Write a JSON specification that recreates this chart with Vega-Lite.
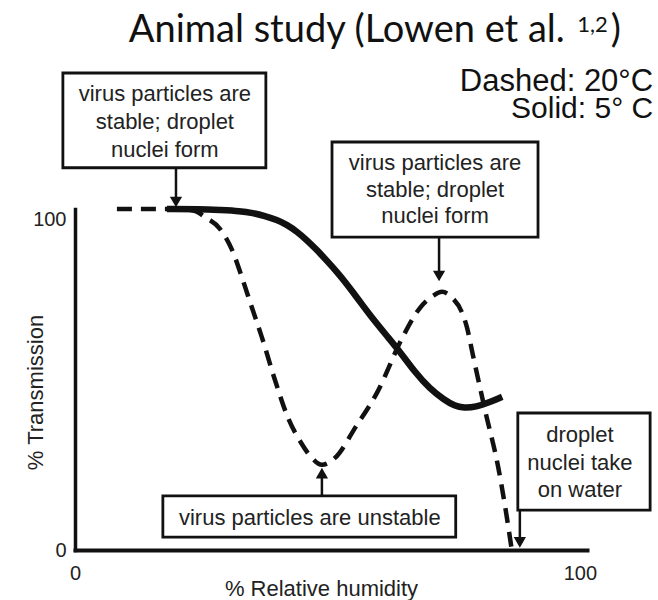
{
  "$schema": "https://vega.github.io/schema/vega-lite/v6.json",
  "autosize": "none",
  "width": 512,
  "height": 341,
  "padding": {"left": 75, "top": 209, "right": 71, "bottom": 50},
  "background": "white",
  "config": {"view": {"stroke": null}},
  "datasets": {
    "curves": [
      {"s": "20C", "x": 8.3, "y": 103.3},
      {"s": "20C", "x": 14.9, "y": 103.3},
      {"s": "20C", "x": 20.8, "y": 103.3},
      {"s": "20C", "x": 23.8, "y": 102.7},
      {"s": "20C", "x": 25.7, "y": 100.9},
      {"s": "20C", "x": 28.7, "y": 97.3},
      {"s": "20C", "x": 31.1, "y": 90.9},
      {"s": "20C", "x": 33.3, "y": 81.5},
      {"s": "20C", "x": 35.0, "y": 73.6},
      {"s": "20C", "x": 37.0, "y": 64.5},
      {"s": "20C", "x": 39.6, "y": 51.5},
      {"s": "20C", "x": 42.2, "y": 40.0},
      {"s": "20C", "x": 44.8, "y": 32.4},
      {"s": "20C", "x": 46.9, "y": 27.9},
      {"s": "20C", "x": 48.9, "y": 25.8},
      {"s": "20C", "x": 51.5, "y": 27.9},
      {"s": "20C", "x": 55.6, "y": 37.3},
      {"s": "20C", "x": 59.8, "y": 47.6},
      {"s": "20C", "x": 64.8, "y": 64.2},
      {"s": "20C", "x": 68.3, "y": 73.3},
      {"s": "20C", "x": 70.9, "y": 77.0},
      {"s": "20C", "x": 72.7, "y": 78.2},
      {"s": "20C", "x": 74.7, "y": 76.4},
      {"s": "20C", "x": 76.6, "y": 72.1},
      {"s": "20C", "x": 77.6, "y": 67.6},
      {"s": "20C", "x": 78.8, "y": 59.1},
      {"s": "20C", "x": 81.2, "y": 42.4},
      {"s": "20C", "x": 83.8, "y": 25.2},
      {"s": "20C", "x": 85.3, "y": 12.1},
      {"s": "20C", "x": 86.5, "y": 0},
      {"s": "5C", "x": 18.2, "y": 103.3},
      {"s": "5C", "x": 24.8, "y": 103.3},
      {"s": "5C", "x": 28.7, "y": 103.0},
      {"s": "5C", "x": 32.7, "y": 102.7},
      {"s": "5C", "x": 35.2, "y": 102.1},
      {"s": "5C", "x": 37.6, "y": 101.2},
      {"s": "5C", "x": 40.0, "y": 100.0},
      {"s": "5C", "x": 42.0, "y": 98.5},
      {"s": "5C", "x": 44.0, "y": 96.4},
      {"s": "5C", "x": 45.9, "y": 93.9},
      {"s": "5C", "x": 47.9, "y": 90.9},
      {"s": "5C", "x": 49.9, "y": 87.6},
      {"s": "5C", "x": 51.9, "y": 84.2},
      {"s": "5C", "x": 53.5, "y": 81.2},
      {"s": "5C", "x": 55.0, "y": 78.2},
      {"s": "5C", "x": 56.8, "y": 74.5},
      {"s": "5C", "x": 58.4, "y": 71.2},
      {"s": "5C", "x": 61.8, "y": 64.8},
      {"s": "5C", "x": 64.4, "y": 60.0},
      {"s": "5C", "x": 67.3, "y": 53.9},
      {"s": "5C", "x": 70.3, "y": 48.8},
      {"s": "5C", "x": 73.1, "y": 45.5},
      {"s": "5C", "x": 75.2, "y": 43.6},
      {"s": "5C", "x": 77.0, "y": 43.0},
      {"s": "5C", "x": 79.4, "y": 43.3},
      {"s": "5C", "x": 82.2, "y": 44.8},
      {"s": "5C", "x": 84.6, "y": 46.4}
    ],
    "boxes": [
      {"id": "b1", "x": -2.4, "x2": 37.8, "y": 144.5, "y2": 115.8},
      {"id": "b2", "x": 50.9, "x2": 91.7, "y": 123.6, "y2": 94.8},
      {"id": "b3", "x": 87.7, "x2": 113.9, "y": 41.5, "y2": 12.1},
      {"id": "b4", "x": 17.4, "x2": 75.4, "y": 16.4, "y2": 3.9}
    ],
    "arrows": [
      {"id": "a1", "x": 20.0, "y": 115.8, "y2": 105.0, "head": 105.4, "shape": "triangle-down"},
      {"id": "a2", "x": 72.1, "y": 94.8, "y2": 82.5, "head": 83.0, "shape": "triangle-down"},
      {"id": "a3", "x": 88.1, "y": 12.1, "y2": 2.0, "head": 2.3, "shape": "triangle-down"},
      {"id": "a4", "x": 48.9, "y": 16.4, "y2": 23.5, "head": 23.3, "shape": "triangle-up"}
    ],
    "notes": [
      {"x": 17.8, "y": 136.1, "t": "virus particles are"},
      {"x": 17.8, "y": 127.6, "t": "stable; droplet"},
      {"x": 17.8, "y": 119.1, "t": "nuclei form"},
      {"x": 71.3, "y": 115.2, "t": "virus particles are"},
      {"x": 71.3, "y": 107.0, "t": "stable; droplet"},
      {"x": 71.3, "y": 99.0, "t": "nuclei form"},
      {"x": 100.0, "y": 32.7, "t": "droplet"},
      {"x": 100.0, "y": 24.2, "t": "nuclei take"},
      {"x": 100.0, "y": 16.1, "t": "on water"},
      {"x": 46.5, "y": 7.6, "t": "virus particles are unstable"}
    ],
    "key": [
      {"x": 114.5, "y": 138.9, "t": "Dashed: 20°C", "size": 31},
      {"x": 114.5, "y": 130.8, "t": "Solid:  5° C", "size": 30}
    ],
    "heading": [
      {"x": 97.0, "y": 153.9, "t": "Animal study (Lowen et al.", "size": 38},
      {"x": 105.5, "y": 157.0, "t": "1,2", "size": 22},
      {"x": 108.1, "y": 153.9, "t": ")", "size": 38}
    ]
  },
  "encoding": {
    "x": {
      "field": "x",
      "type": "quantitative",
      "scale": {"domain": [0, 101.4], "nice": false, "zero": false},
      "axis": {
        "values": [0, 100],
        "title": "% Relative humidity",
        "titleFont": "Liberation Sans",
        "titleFontSize": 22,
        "titleFontWeight": "normal",
        "titleColor": "#222",
        "titleX": 246,
        "titleY": 45,
        "titleAlign": "center",
        "titleBaseline": "alphabetic",
        "labelFont": "Liberation Sans",
        "labelFontSize": 20,
        "labelColor": "#222",
        "labelPadding": 13,
        "labelFlush": false,
        "ticks": false,
        "grid": false,
        "domainColor": "#111",
        "domainWidth": 4,
        "domainCap": "square"
      }
    },
    "y": {
      "field": "y",
      "type": "quantitative",
      "scale": {"domain": [0, 103.3], "nice": false, "zero": false},
      "axis": {
        "values": [0, 100],
        "title": "% Transmission",
        "titleFont": "Liberation Sans",
        "titleFontSize": 22,
        "titleFontWeight": "normal",
        "titleColor": "#222",
        "titleX": -33,
        "titleY": 183,
        "titleAlign": "center",
        "titleBaseline": "alphabetic",
        "labelFont": "Liberation Sans",
        "labelFontSize": 20,
        "labelColor": "#222",
        "labelPadding": 9,
        "labelFlush": false,
        "ticks": false,
        "grid": false,
        "domainColor": "#111",
        "domainWidth": 3.5,
        "domainCap": "square"
      }
    }
  },
  "layer": [
    {
      "data": {"name": "curves"},
      "transform": [{"filter": "datum.s === '20C'"}],
      "mark": {"type": "line", "interpolate": "monotone", "color": "#111", "strokeWidth": 4.5, "strokeDash": [15, 9], "strokeCap": "butt"}
    },
    {
      "data": {"name": "curves"},
      "transform": [{"filter": "datum.s === '5C'"}],
      "mark": {"type": "line", "interpolate": "basis", "color": "#111", "strokeWidth": 6.5, "strokeCap": "butt"}
    },
    {
      "data": {"name": "arrows"},
      "mark": {"type": "rule", "color": "#111", "strokeWidth": 2.5},
      "encoding": {"y2": {"field": "y2"}}
    },
    {
      "data": {"name": "arrows"},
      "mark": {"type": "point", "filled": true, "color": "#111", "size": 150, "opacity": 1},
      "encoding": {
        "y": {"field": "head", "type": "quantitative"},
        "shape": {"field": "shape", "type": "nominal", "scale": null}
      }
    },
    {
      "data": {"name": "boxes"},
      "mark": {"type": "rect", "fill": "white", "stroke": "#111", "strokeWidth": 2.8},
      "encoding": {"x2": {"field": "x2"}, "y2": {"field": "y2"}}
    },
    {
      "data": {"name": "notes"},
      "mark": {"type": "text", "font": "Liberation Sans", "fontSize": 22, "color": "#222", "align": "center", "baseline": "alphabetic"},
      "encoding": {"text": {"field": "t"}}
    },
    {
      "data": {"name": "key"},
      "mark": {"type": "text", "font": "Liberation Sans", "color": "#111", "align": "right", "baseline": "alphabetic"},
      "encoding": {
        "text": {"field": "t"},
        "size": {"field": "size", "type": "quantitative", "scale": null}
      }
    },
    {
      "data": {"name": "heading"},
      "mark": {"type": "text", "font": "Lato", "color": "#111", "align": "right", "baseline": "alphabetic"},
      "encoding": {
        "text": {"field": "t"},
        "size": {"field": "size", "type": "quantitative", "scale": null}
      }
    }
  ]
}
